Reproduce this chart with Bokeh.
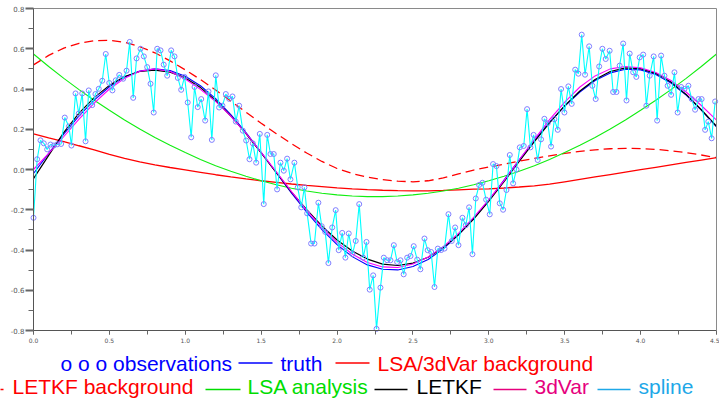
from bokeh.plotting import figure
from bokeh.models import Range1d, SingleIntervalTicker, FixedTicker, PrintfTickFormatter, LinearAxis
from bokeh.core.properties import value
from bokeh.embed import file_html
from bokeh.resources import INLINE

grid_x = [0.0, 0.1, 0.2, 0.3, 0.4, 0.5, 0.6, 0.7, 0.8, 0.9,
          1.0, 1.1, 1.2, 1.3, 1.4, 1.5, 1.6, 1.7, 1.8, 1.9,
          2.0, 2.1, 2.2, 2.3, 2.4, 2.5, 2.6, 2.7, 2.8, 2.9,
          3.0, 3.1, 3.2, 3.3, 3.4, 3.5, 3.6, 3.7, 3.8, 3.9,
          4.0, 4.1, 4.2, 4.3, 4.4, 4.5]

truth = [-0.020, 0.080, 0.177, 0.266, 0.345, 0.411, 0.459, 0.489, 0.500, 0.492,
         0.463, 0.416, 0.352, 0.273, 0.183, 0.085, -0.016, -0.117, -0.212, -0.299,
         -0.373, -0.433, -0.474, -0.496, -0.499, -0.482, -0.447, -0.394, -0.325, -0.243,
         -0.153, -0.052, 0.048, 0.143, 0.235, 0.315, 0.385, 0.442, 0.480, 0.498,
         0.495, 0.472, 0.430, 0.370, 0.295, 0.212]

letkf = [-0.045, 0.070, 0.185, 0.280, 0.357, 0.418, 0.462, 0.487, 0.494, 0.484,
         0.455, 0.407, 0.343, 0.266, 0.178, 0.082, -0.016, -0.112, -0.200, -0.280,
         -0.350, -0.405, -0.445, -0.470, -0.477, -0.465, -0.436, -0.388, -0.324, -0.246,
         -0.157, -0.060, 0.040, 0.138, 0.232, 0.317, 0.390, 0.447, 0.487, 0.505,
         0.501, 0.478, 0.435, 0.373, 0.297, 0.215]

var3d = [0.000, 0.080, 0.164, 0.250, 0.330, 0.400, 0.453, 0.488, 0.500, 0.487,
         0.450, 0.398, 0.338, 0.265, 0.180, 0.085, -0.012, -0.110, -0.203, -0.288,
         -0.362, -0.420, -0.462, -0.484, -0.487, -0.470, -0.435, -0.383, -0.317, -0.238,
         -0.150, -0.055, 0.047, 0.150, 0.248, 0.335, 0.410, 0.465, 0.500, 0.512,
         0.505, 0.482, 0.442, 0.385, 0.318, 0.245]

letkf_bg = [0.520, 0.567, 0.603, 0.627, 0.640, 0.642, 0.632, 0.610, 0.580, 0.540,
            0.495, 0.447, 0.395, 0.340, 0.285, 0.230, 0.178, 0.128, 0.082, 0.040,
            0.005, -0.020, -0.038, -0.050, -0.058, -0.061, -0.056, -0.042, -0.022, -0.003,
            0.012, 0.026, 0.042, 0.055, 0.068, 0.080, 0.090, 0.098, 0.103, 0.105,
            0.104, 0.100, 0.093, 0.084, 0.072, 0.059]

lsa_bg = [0.177, 0.157, 0.139, 0.118, 0.098, 0.075, 0.055, 0.038, 0.023, 0.010,
          -0.002, -0.014, -0.026, -0.037, -0.047, -0.056, -0.064, -0.072, -0.079, -0.085,
          -0.091, -0.096, -0.100, -0.103, -0.105, -0.106, -0.106, -0.104, -0.101, -0.098,
          -0.096, -0.092, -0.087, -0.081, -0.073, -0.061, -0.049, -0.037, -0.025, -0.013,
          -0.001, 0.011, 0.023, 0.035, 0.047, 0.059]

lsa = [0.574, 0.512, 0.453, 0.397, 0.344, 0.294, 0.246, 0.201, 0.159, 0.120,
       0.084, 0.050, 0.019, -0.009, -0.034, -0.056, -0.076, -0.093, -0.107, -0.118,
       -0.126, -0.132, -0.135, -0.135, -0.132, -0.126, -0.118, -0.107, -0.093, -0.076,
       -0.056, -0.034, -0.009, 0.019, 0.050, 0.084, 0.120, 0.159, 0.201, 0.246,
       0.294, 0.344, 0.397, 0.453, 0.512, 0.574]

obs_x = [0.0, 0.024, 0.046, 0.068, 0.09, 0.112, 0.134, 0.156, 0.182, 0.206,
         0.233, 0.25, 0.277, 0.298, 0.321, 0.343, 0.364, 0.387, 0.408, 0.43,
         0.453, 0.476, 0.499, 0.52, 0.542, 0.565, 0.591, 0.613, 0.634, 0.657,
         0.679, 0.705, 0.727, 0.749, 0.771, 0.792, 0.815, 0.837, 0.858, 0.881,
         0.907, 0.929, 0.951, 0.973, 0.995, 1.016, 1.039, 1.061, 1.082, 1.105,
         1.131, 1.153, 1.175, 1.201, 1.223, 1.245, 1.267, 1.289, 1.311, 1.333,
         1.355, 1.379, 1.401, 1.423, 1.445, 1.467, 1.491, 1.517, 1.54, 1.561,
         1.583, 1.605, 1.627, 1.649, 1.671, 1.693, 1.719, 1.741, 1.764, 1.785,
         1.803, 1.829, 1.851, 1.877, 1.899, 1.922, 1.943, 1.968, 1.991, 2.011,
         2.034, 2.055, 2.077, 2.101, 2.123, 2.146, 2.172, 2.194, 2.215, 2.238,
         2.26, 2.286, 2.308, 2.33, 2.352, 2.374, 2.396, 2.418, 2.439, 2.462,
         2.484, 2.505, 2.528, 2.549, 2.576, 2.597, 2.62, 2.642, 2.664, 2.686,
         2.708, 2.734, 2.756, 2.778, 2.8, 2.826, 2.848, 2.87, 2.892, 2.914,
         2.936, 2.958, 2.982, 3.006, 3.028, 3.05, 3.072, 3.094, 3.116, 3.138,
         3.16, 3.182, 3.204, 3.23, 3.252, 3.274, 3.295, 3.322, 3.344, 3.366,
         3.388, 3.41, 3.432, 3.454, 3.476, 3.498, 3.524, 3.546, 3.569, 3.59,
         3.612, 3.634, 3.661, 3.682, 3.704, 3.727, 3.748, 3.77, 3.796, 3.819,
         3.841, 3.862, 3.885, 3.907, 3.928, 3.951, 3.972, 3.994, 4.017, 4.038,
         4.06, 4.086, 4.109, 4.135, 4.157, 4.178, 4.201, 4.223, 4.244, 4.267,
         4.289, 4.315, 4.337, 4.359, 4.381, 4.402, 4.425, 4.446, 4.468, 4.491]

obs_y = [-0.24, 0.051, 0.145, 0.13, 0.10, 0.124, 0.119, 0.125, 0.127, 0.258,
         0.214, 0.119, 0.378, 0.278, 0.378, 0.14, 0.393, 0.32, 0.375, 0.401,
         0.441, 0.574, 0.43, 0.393, 0.443, 0.47, 0.451, 0.491, 0.634, 0.356,
         0.552, 0.60, 0.562, 0.509, 0.426, 0.283, 0.60, 0.592, 0.521, 0.466,
         0.592, 0.562, 0.455, 0.396, 0.46, 0.333, 0.16, 0.41, 0.31, 0.35,
         0.243, 0.388, 0.147, 0.468, 0.308, 0.317, 0.375, 0.351, 0.363, 0.238,
         0.317, 0.193, 0.144, 0.051, 0.13, 0.034, 0.177, -0.172, 0.172, 0.077,
         0.077, -0.099, 0.034, -0.006, 0.054, -0.049, 0.034, -0.089, -0.188, -0.089,
         -0.218, -0.368, -0.368, -0.165, -0.282, -0.31, -0.465, -0.288, -0.202, -0.401,
         -0.315, -0.438, -0.318, -0.42, -0.355, -0.172, -0.438, -0.36, -0.597, -0.526,
         -0.792, -0.587, -0.438, -0.451, -0.451, -0.376, -0.46, -0.451, -0.521, -0.438,
         -0.43, -0.381, -0.448, -0.496, -0.343, -0.401, -0.41, -0.584, -0.393, -0.40,
         -0.393, -0.222, -0.355, -0.288, -0.376, -0.24, -0.277, -0.188, -0.421, -0.144,
         -0.077, -0.066, -0.15, -0.223, 0.027, 0.017, -0.168, -0.2, -0.102, 0.072,
         -0.069, 0.0, 0.11, 0.117, 0.30, 0.11, 0.172, 0.047, 0.15, 0.252,
         0.23, 0.114, 0.25, 0.197, 0.40, 0.283, 0.413, 0.326, 0.496, 0.476,
         0.67, 0.471, 0.612, 0.416, 0.35, 0.512, 0.60, 0.549, 0.59, 0.385,
         0.385, 0.516, 0.626, 0.343, 0.576, 0.483, 0.46, 0.557, 0.571, 0.317,
         0.466, 0.562, 0.243, 0.566, 0.466, 0.416, 0.371, 0.483, 0.283, 0.41,
         0.40, 0.416, 0.35, 0.297, 0.35, 0.35, 0.197, 0.238, 0.155, 0.338]

legend_names = ["o o o observations", "truth", "LSA/3dVar background",
                "LETKF background", "LSA analysis", "LETKF", "3dVar", "spline"]

X0, X1, Y0, Y1 = 0.0, 4.5, -0.8, 0.8

# ---------------- geometry (page pixels) ----------------
W, H = 719, 400
FL, FR, FT, FB = 33, 716, 8, 330          # where the axes box lies on the page
sx = (X1 - X0) / (FR - FL)
sy = (Y1 - Y0) / (FB - FT)


def px_to_data(px, py):
    return X0 + (px - FL) * sx, Y1 - (py - FT) * sy


xr0, yr1 = px_to_data(0, 0)
xr1, yr0 = px_to_data(W, H)

# the frame covers the whole canvas; the axes are drawn at fixed data positions
p = figure(width=W, height=H, x_range=Range1d(xr0, xr1), y_range=Range1d(yr0, yr1),
           output_backend="svg", toolbar_location=None, min_border=0,
           x_axis_location="below", y_axis_location="left")
p.grid.visible = False
p.outline_line_color = None

AX_COL, TICK_COL, LAB_COL = "#555555", "#666666", "#555555"

xa = p.xaxis[0]
ya = p.yaxis[0]
xa.fixed_location = Y0
xa.bounds = (X0, X1)
ya.fixed_location = X0
ya.bounds = (Y0, Y1)
xa.ticker = SingleIntervalTicker(interval=0.5, num_minor_ticks=2)
ya.ticker = SingleIntervalTicker(interval=0.2, num_minor_ticks=2)
xa.formatter = PrintfTickFormatter(format="%.1f")
ya.formatter = PrintfTickFormatter(format="%.1f")
for ax in (xa, ya):
    ax.axis_line_color = AX_COL
    ax.major_tick_line_color = TICK_COL
    ax.minor_tick_line_color = TICK_COL
    ax.major_label_text_color = LAB_COL
    ax.major_label_text_font = "DejaVu Sans"
    ax.major_tick_in = 0
    ax.minor_tick_in = 0
xa.major_label_text_font_size = "6px"
ya.major_label_text_font_size = "7px"
xa.major_tick_out = 4
xa.minor_tick_out = 4
xa.major_label_standoff = 3
ya.major_tick_out = 8
ya.minor_tick_out = 5
ya.major_tick_line_width = 2
ya.major_label_standoff = 1

# top and right edges of the box as bare axes
top_ax = LinearAxis(fixed_location=Y1, bounds=(X0, X1), ticker=FixedTicker(ticks=[]),
                    axis_line_color="#8a8a8a", major_tick_out=0, minor_tick_out=0)
right_ax = LinearAxis(fixed_location=X1, bounds=(Y0, Y1), ticker=FixedTicker(ticks=[]),
                      axis_line_color="#8a8a8a", major_tick_out=0, minor_tick_out=0)
p.add_layout(top_ax, "above")
p.add_layout(right_ax, "right")

RED, GREEN, BLUE, BLACK, MAG, CYAN = "#ff0000", "#11ee11", "#0000ff", "#000000", "#ff00ff", "#00ffff"

p.line(grid_x, lsa_bg, color=RED, line_width=1.3)
p.line(grid_x, letkf_bg, color=RED, line_width=1.3, line_dash="9 5")
p.line(grid_x, lsa, color=GREEN, line_width=1.1)
p.line(grid_x, truth, color=BLUE, line_width=1.1)
p.line(grid_x, letkf, color=BLACK, line_width=1.2)
p.line(grid_x, var3d, color=MAG, line_width=1.1)
p.line(obs_x, obs_y, color=CYAN, line_width=1.1)
p.scatter(obs_x, obs_y, marker="circle", size=5, fill_color=None,
          line_color="#7f7fff", line_width=1)

# ---------------- legend: two text rows below the axes ----------------
leg_text_color = ["#0000ff", "#0000ff", "#ff0000",
                  "#ff0000", "#00dd00", "#000000", "#e6007e", "#1ea8e8"]
leg_px = [60, 280, 377, 12, 247, 416, 534, 638]
leg_py = [362.5, 362.5, 362.5, 386, 386, 386, 386, 386]
lx, ly = zip(*[px_to_data(a, b) for a, b in zip(leg_px, leg_py)])
p.text(x=list(lx), y=list(ly), text=legend_names, text_color=leg_text_color,
       text_font=value("Liberation Sans"), text_font_size="21px",
       text_baseline="alphabetic", text_align="left")

seg_color = ["#0000ff", "#ff0000", "#ff0000", "#00dd00", "#000000", "#e6007e", "#1ea8e8"]
seg_px0 = [238, 335, -32, 205, 374, 493, 597]
seg_px1 = [272, 369, 3, 240, 407, 526, 630]
seg_py = [362.5, 362.5, 389, 389, 389, 389, 389]
s0 = [px_to_data(a, b) for a, b in zip(seg_px0, seg_py)]
s1 = [px_to_data(a, b) for a, b in zip(seg_px1, seg_py)]
p.segment(x0=[a[0] for a in s0], y0=[a[1] for a in s0],
          x1=[a[0] for a in s1], y1=[a[1] for a in s1],
          line_color=seg_color, line_width=1.6)

open("out.html", "w").write(file_html(p, INLINE))
